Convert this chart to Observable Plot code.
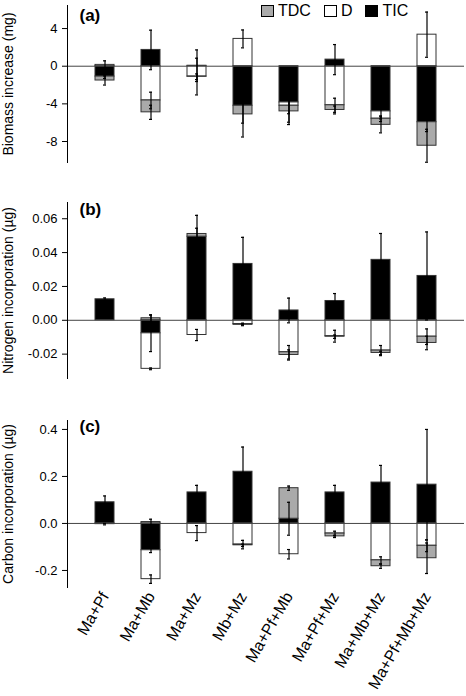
<!DOCTYPE html>
<html><head><meta charset="utf-8">
<script src="https://cdn.jsdelivr.net/npm/d3@7"></script>
<script src="https://cdn.jsdelivr.net/npm/@observablehq/plot@0.6"></script>
<style>
body{margin:0;background:#fff;}
#chart{position:relative;width:466px;height:696px;font-family:"Liberation Sans",Arial,Helvetica,sans-serif;}
#chart svg{display:block;}
.legend{position:absolute;left:261px;top:3px;display:flex;align-items:center;font-size:16px;line-height:16px;color:#000;}
.legend .item{display:flex;align-items:center;margin-right:13px;}
.legend .sw{width:11px;height:10px;border:1px solid #000;margin-right:4px;}
</style></head><body><div id="chart"></div>
<script>
const groups = ["Ma+Pf","Ma+Mb","Ma+Mz","Mb+Mz","Ma+Pf+Mb","Ma+Pf+Mz","Ma+Mb+Mz","Ma+Pf+Mb+Mz"];
const stackOrder = ["TIC","D","TDC"];
const legendOrder = ["TDC","D","TIC"];
const seriesColors = ["#aaaaaa","#ffffff","#000000"];

// (a) Biomass increase (mg)
const TIC_a = [-1.1, 1.73, 0.05, -4.2, -3.85, 0.7, -4.8, -5.95];
const D_a   = [0.14, -3.64, -1.1, 2.9, -0.35, -4.15, -0.78, 3.35];
const TDC_a = [-0.42, -1.26, -0.02, -0.92, -0.6, -0.5, -0.65, -2.5];
const TICerr_a = [0.2, 2.1, 1.68, 1.85, 1.2, 1.6, 0.8, 1.0];
const Derr_a   = [0.43, 0.88, 1.95, 0.95, 1.75, 0.75, 0.3, 2.4];
const TDCerr_a = [0.48, 0.75, 0.3, 2.4, 1.4, 0.42, 0.85, 1.75];
const ticks_a = [-8, -4, 0, 4];

// (b) Nitrogen incorporation (µg)
const TIC_b = [0.0124, -0.0077, 0.0494, 0.0333, 0.0058, 0.0114, 0.0357, 0.0262];
const D_b   = [0, -0.021, -0.0087, -0.0022, -0.0189, -0.0094, -0.0179, -0.0097];
const TDC_b = [0, 0.0012, 0.0016, -0.0005, -0.0016, -0.0003, -0.0014, -0.0037];
const TICerr_b = [0.0008, 0.0108, 0.005, 0.0157, 0.0073, 0.0044, 0.0156, 0.026];
const Derr_b   = [0, 0.0005, 0.0033, 0.0005, 0.004, 0.0035, 0.003, 0.0046];
const TDCerr_b = [0, 0.002, 0.011, 0.0005, 0.003, 0.001, 0.001, 0.004];
const ticks_b = [-0.02, 0, 0.02, 0.04, 0.06];

// (c) Carbon incorporation (µg)
const TIC_c = [0.09, -0.114, 0.132, 0.22, 0.02, 0.132, 0.174, 0.165];
const D_c   = [-0.003, -0.123, -0.041, -0.09, -0.131, -0.043, -0.157, -0.095];
const TDC_c = [0, 0.006, 0, -0.003, 0.13, -0.012, -0.025, -0.053];
const TICerr_c = [0.027, 0.01, 0.03, 0.105, 0.07, 0.03, 0.073, 0.235];
const Derr_c   = [0.003, 0.018, 0.032, 0.018, 0.02, 0.01, 0.015, 0.025];
const TDCerr_c = [0, 0.012, 0, 0.005, 0.009, 0.005, 0.009, 0.065];
const ticks_c = [-0.2, 0, 0.2, 0.4];

const FONT = '"Liberation Sans", Arial, Helvetica, sans-serif';

function build(vals, errs) {
  const rows = [], err = [];
  groups.forEach((g, i) => {
    let pos = 0, neg = 0;
    for (const s of stackOrder) {
      const v = vals[s][i];
      rows.push({group: g, series: s, value: v});
      let end;
      if (v >= 0) { pos += v; end = pos; } else { neg += v; end = neg; }
      const e = errs[s][i];
      if (e > 0) err.push({group: g, series: s, lo: end - e, hi: end + e});
    }
  });
  return {rows, err};
}

function panel(o) {
  const {rows, err} = build(o.vals, o.errs);
  const caps = err.flatMap(d => [{group: d.group, y: d.lo}, {group: d.group, y: d.hi}]);
  const marks = [
    Plot.barY(rows, {x: "group", y: "value", fill: "series", stroke: "#333", strokeWidth: 1}),
    Plot.ruleY([0], {stroke: "#444", strokeWidth: 1}),
    Plot.ruleX(err, {x: "group", y1: "lo", y2: "hi", stroke: "#000", strokeWidth: 1.2}),
    Plot.tickY(caps, {x: "group", y: "y", insetLeft: 8, insetRight: 8, stroke: "#000", strokeWidth: 1.2}),
    Plot.frame({anchor: "left", stroke: "#000"}),
    Plot.axisY({ticks: o.ticks, tickFormat: o.fmt, tickSize: 5, tickPadding: 5, fontSize: 13, label: null}),
    Plot.axisY({ticks: [], tickSize: 0, label: o.label, labelAnchor: "center", labelArrow: "none", fontSize: 14}),
    Plot.text([o.letter], {text: d => d, frameAnchor: "top-left", textAnchor: "start", lineAnchor: "top", dx: 12, dy: o.letterDy, fontSize: 17, fontWeight: "bold"})
  ];
  if (o.xAxis) marks.push(Plot.axisX({tickSize: 0, tickRotate: -60, tickPadding: 6, fontSize: 16, label: null}));
  return Plot.plot({
    width: 466, height: o.height,
    marginLeft: 67, marginRight: 2, marginTop: o.marginTop, marginBottom: o.marginBottom,
    style: {fontFamily: FONT, fontSize: "13px", color: "#000", background: "#fff", overflow: "visible"},
    x: o.xAxis ? {domain: groups, padding: 0.58} : {domain: groups, padding: 0.58, axis: null},
    y: {domain: o.domain},
    color: {domain: legendOrder, range: seriesColors},
    marks
  });
}

const chart = document.getElementById("chart");
chart.append(panel({
  vals: {TIC: TIC_a, D: D_a, TDC: TDC_a}, errs: {TIC: TICerr_a, D: Derr_a, TDC: TDCerr_a},
  domain: [-10.23, 6.45], ticks: ticks_a, fmt: d => String(d),
  label: "Biomass increase (mg)", letter: "(a)", letterDy: 3,
  height: 190, marginTop: 5, marginBottom: 28
}));
chart.append(panel({
  vals: {TIC: TIC_b, D: D_b, TDC: TDC_b}, errs: {TIC: TICerr_b, D: Derr_b, TDC: TDCerr_b},
  domain: [-0.0344, 0.0696], ticks: ticks_b, fmt: d => d.toFixed(2),
  label: "Nitrogen incorporation (µg)", letter: "(b)", letterDy: 0,
  height: 210, marginTop: 12, marginBottom: 22
}));
chart.append(panel({
  vals: {TIC: TIC_c, D: D_c, TDC: TDC_c}, errs: {TIC: TICerr_c, D: Derr_c, TDC: TDCerr_c},
  domain: [-0.2725, 0.438], ticks: ticks_c, fmt: d => d.toFixed(1),
  label: "Carbon incorporation (µg)", letter: "(c)", letterDy: -1,
  height: 296, marginTop: 20, marginBottom: 109, xAxis: true
}));

const legend = document.createElement("div");
legend.className = "legend";
legendOrder.forEach((s, i) => {
  const item = document.createElement("div");
  item.className = "item";
  const sw = document.createElement("div");
  sw.className = "sw";
  sw.style.background = seriesColors[i];
  const t = document.createElement("span");
  t.textContent = s;
  item.append(sw, t);
  legend.append(item);
});
chart.append(legend);
</script></body></html>
